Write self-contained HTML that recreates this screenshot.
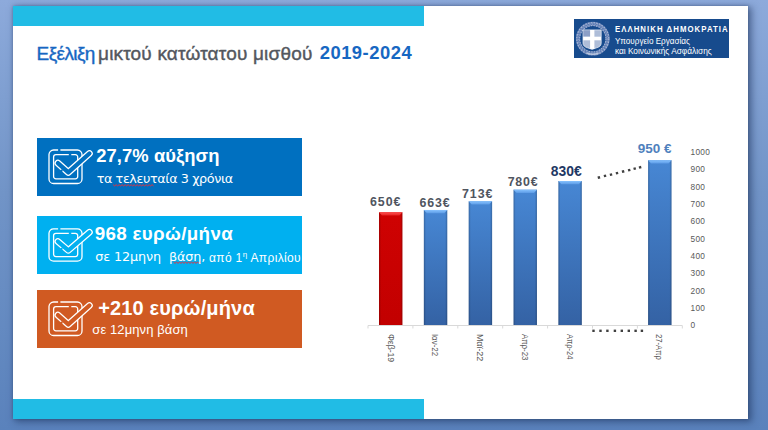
<!DOCTYPE html>
<html lang="el">
<head>
<meta charset="utf-8">
<title>Εξέλιξη μικτού κατώτατου μισθού 2019-2024</title>
<style>
html,body{margin:0;padding:0;}
body{width:768px;height:430px;overflow:hidden;position:relative;
  background:linear-gradient(180deg,#8daadb 0%,#7194c7 45%,#5a82bc 100%);
  font-family:"Liberation Sans",sans-serif;}
.slide{position:absolute;left:13px;top:6px;width:735px;height:413px;background:#fff;
  box-shadow:3px 2px 7px 1px rgba(25,45,85,.5),0 0 3px rgba(25,45,85,.35);}
.cy{position:absolute;left:13px;width:411px;height:20.3px;background:#21bce5;}
.t{position:absolute;white-space:nowrap;line-height:1;}
.logo{position:absolute;left:574px;top:19px;width:155px;height:38.5px;background:#174b8d;}
.box{position:absolute;left:36.5px;width:265.3px;}
.ic{position:absolute;}
.w{color:#fff;}
</style>
</head>
<body>
<div class="slide"></div>
<div class="cy" style="top:6px"></div>
<div class="cy" style="top:398.5px"></div>

<div class="t" style="left:36.6px;top:43.9px;font-size:19px;letter-spacing:-0.61px;color:#1767c2;-webkit-text-stroke:0.4px #1767c2;">Εξέλιξη</div>
<div class="t" style="left:98px;top:43.9px;font-size:19px;letter-spacing:0.18px;color:#53575e;-webkit-text-stroke:0.4px #53575e;">μικτού κατώτατου μισθού</div>
<div class="t" style="left:319.7px;top:44.3px;font-size:18.4px;letter-spacing:0.5px;font-weight:bold;color:#1767c2;">2019-2024</div>

<div class="logo"></div>
<svg width="156" height="40" viewBox="0 0 156 40" style="position:absolute;left:574px;top:19px">
  <circle cx="18.8" cy="19.7" r="14.8" fill="none" stroke="#5f7db4" stroke-width="4.2"/>
  <circle cx="18.8" cy="19.7" r="16" fill="none" stroke="#a4b4d3" stroke-width="1.3" stroke-dasharray="1.6 1.2"/>
  <circle cx="18.8" cy="19.7" r="14.6" fill="none" stroke="#8ea3c9" stroke-width="1.1" stroke-dasharray="1 1.6"/>
  <circle cx="18.8" cy="19.7" r="13.2" fill="none" stroke="#a0b2d2" stroke-width="1.1" stroke-dasharray="1.4 1.2"/>
  <path d="M13 34 Q18.8 36.5 24.6 34" fill="none" stroke="#b8c6de" stroke-width="1.4"/>
  <path d="M9 10.9 H27.2 V24 Q27.2 27.6 22.6 28.8 L18.1 30.4 L13.6 28.8 Q9 27.6 9 24 Z" fill="#aebdd8" stroke="#f0f4fa" stroke-width="0.7"/>
  <path d="M9.4 11.3 H18 V17.7 H9.4 Z" fill="#8c9fc6"/>
  <rect x="16.1" y="11" width="4.3" height="18.9" fill="#fff"/>
  <rect x="9.2" y="17.7" width="17.8" height="3.6" fill="#fff"/>
  <g fill="#fff" font-family="Liberation Sans, sans-serif">
    <text transform="translate(40.9 13.2) scale(0.84 1)" font-size="9.3" font-weight="bold" textLength="134.2" lengthAdjust="spacing">ΕΛΛΗΝΙΚΗ ΔΗΜΟΚΡΑΤΙΑ</text>
    <text x="40.9" y="25.3" font-size="9.4" textLength="75" lengthAdjust="spacingAndGlyphs">Υπουργείο Εργασίας</text>
    <text x="40.9" y="34.8" font-size="9.4" textLength="96.9" lengthAdjust="spacingAndGlyphs">και Κοινωνικής Ασφάλισης</text>
  </g>
</svg>

<div class="box" style="top:137.7px;height:58.3px;background:#0070c0;"></div>
<div class="box" style="top:215.8px;height:58.5px;background:#00b0f0;"></div>
<div class="box" style="top:289.7px;height:58.3px;background:#d05a22;"></div>

<svg class="ic" style="left:44px;top:144.9px" width="50" height="45" viewBox="-5 -5 50 45">
  <g fill="none" stroke="#fff" stroke-width="1.3">
    <path d="M9.1 0 H4.6 A4.6 4.6 0 0 0 0 4.6 V28.9 A4.6 4.6 0 0 0 4.6 33.5 H28.4 A4.6 4.6 0 0 0 33 28.9 V4.6 A4.6 4.6 0 0 0 28.4 0 H11.4"/>
    <path d="M19.8 4.7 H6.9 A2.3 2.3 0 0 0 4.6 7 V26.5 A2.3 2.3 0 0 0 6.9 28.8 H26.4 A2.3 2.3 0 0 0 28.7 26.5 V7 A2.3 2.3 0 0 0 26.4 4.7 H22.3"/>
  </g>
  <path d="M8.9 13.1 L19.3 22.4 L40.4 3.5" fill="none" stroke="#fff" stroke-width="6.8" stroke-linecap="round" stroke-linejoin="round"/>
  <path d="M8.9 13.1 L19.3 22.4 L40.4 3.5" fill="none" stroke="#0070c0" stroke-width="4.3" stroke-linecap="round" stroke-linejoin="round"/>
  <path d="M11.6 20.2 L13.2 21.6" stroke="#0070c0" stroke-width="2.4"/>
</svg>
<svg class="ic" style="left:44.2px;top:224.1px" width="50" height="43.4" viewBox="-5 -5 50 45" preserveAspectRatio="none">
  <g fill="none" stroke="#fff" stroke-width="1.3">
    <path d="M9.1 0 H4.6 A4.6 4.6 0 0 0 0 4.6 V28.9 A4.6 4.6 0 0 0 4.6 33.5 H28.4 A4.6 4.6 0 0 0 33 28.9 V4.6 A4.6 4.6 0 0 0 28.4 0 H11.4"/>
    <path d="M19.8 4.7 H6.9 A2.3 2.3 0 0 0 4.6 7 V26.5 A2.3 2.3 0 0 0 6.9 28.8 H26.4 A2.3 2.3 0 0 0 28.7 26.5 V7 A2.3 2.3 0 0 0 26.4 4.7 H22.3"/>
  </g>
  <path d="M8.9 13.1 L19.3 22.4 L40.4 3.5" fill="none" stroke="#fff" stroke-width="6.8" stroke-linecap="round" stroke-linejoin="round"/>
  <path d="M8.9 13.1 L19.3 22.4 L40.4 3.5" fill="none" stroke="#00b0f0" stroke-width="4.3" stroke-linecap="round" stroke-linejoin="round"/>
  <path d="M11.6 20.2 L13.2 21.6" stroke="#00b0f0" stroke-width="2.4"/>
</svg>
<svg class="ic" style="left:44.2px;top:296.6px" width="50" height="45" viewBox="-5 -5 50 45">
  <g fill="none" stroke="#fff" stroke-width="1.3">
    <path d="M9.1 0 H4.6 A4.6 4.6 0 0 0 0 4.6 V28.9 A4.6 4.6 0 0 0 4.6 33.5 H28.4 A4.6 4.6 0 0 0 33 28.9 V4.6 A4.6 4.6 0 0 0 28.4 0 H11.4"/>
    <path d="M19.8 4.7 H6.9 A2.3 2.3 0 0 0 4.6 7 V26.5 A2.3 2.3 0 0 0 6.9 28.8 H26.4 A2.3 2.3 0 0 0 28.7 26.5 V7 A2.3 2.3 0 0 0 26.4 4.7 H22.3"/>
  </g>
  <path d="M8.9 13.1 L19.3 22.4 L40.4 3.5" fill="none" stroke="#fff" stroke-width="6.8" stroke-linecap="round" stroke-linejoin="round"/>
  <path d="M8.9 13.1 L19.3 22.4 L40.4 3.5" fill="none" stroke="#d05a22" stroke-width="4.3" stroke-linecap="round" stroke-linejoin="round"/>
  <path d="M11.6 20.2 L13.2 21.6" stroke="#d05a22" stroke-width="2.4"/>
</svg>
<svg style="position:absolute;left:0;top:0" width="768" height="430" viewBox="0 0 768 430">
  <polyline points="113.1,184.7 114.6,185.9 116.1,184.7 117.6,185.9 119.1,184.7 120.6,185.9 122.1,184.7 123.6,185.9 125.1,184.7 126.6,185.9 128.1,184.7 129.6,185.9 131.1,184.7 132.6,185.9 134.1,184.7 135.6,185.9 137.1,184.7 138.6,185.9 140.1,184.7 141.6,185.9 143.1,184.7 144.6,185.9 146.1,184.7 147.6,185.9 149.1,184.7 150.6,185.9 152.1,184.7 153.6,185.9" fill="none" stroke="#e8303c" stroke-width="1"/>
  <polyline points="173.5,262.1 175.0,263.3 176.5,262.1 178.0,263.3 179.5,262.1 181.0,263.3 182.5,262.1 184.0,263.3 185.5,262.1 187.0,263.3 188.5,262.1 190.0,263.3 191.5,262.1 193.0,263.3 194.5,262.1 196.0,263.3 197.5,262.1 199.0,263.3 200.5,262.1" fill="none" stroke="#e8303c" stroke-width="1"/>
</svg>
<div class="t w" style="left:96.3px;top:146.6px;font-size:18.4px;font-weight:bold;letter-spacing:0.06px;">27,7% αύξηση</div>
<div class="t w" style="left:96.7px;top:173px;font-family:'DejaVu Sans',sans-serif;font-size:12.8px;letter-spacing:-0.43px;">τα τελευταία 3 χρόνια</div>
<div class="t w" style="left:94.7px;top:224.6px;font-size:18.8px;font-weight:bold;letter-spacing:0.33px;">968 ευρώ/μήνα</div>
<div class="t w" style="left:95.2px;top:251.3px;font-family:'DejaVu Sans',sans-serif;font-size:12.8px;letter-spacing:-0.12px;">σε 12μηνη &nbsp;βάση,</div>
<div class="t w" style="left:209px;top:250.5px;font-size:12px;letter-spacing:0.35px;">από 1<span style="font-size:8px;vertical-align:5px">η</span> Απριλίου</div>
<div class="t w" style="left:98.2px;top:298.4px;font-size:20px;font-weight:bold;letter-spacing:0.16px;">+210 ευρώ/μήνα</div>
<div class="t w" style="left:92.3px;top:323.1px;font-size:13px;letter-spacing:0.1px;">σε 12μηνη βάση</div>

<svg style="position:absolute;left:0;top:0" width="768" height="430" viewBox="0 0 768 430">
  <defs>
    <linearGradient id="gB" x1="0" y1="0" x2="0" y2="1"><stop offset="0" stop-color="#4787d4"/><stop offset="1" stop-color="#3462a4"/></linearGradient>
    <linearGradient id="gR" x1="0" y1="0" x2="0" y2="1"><stop offset="0" stop-color="#cf0202"/><stop offset="1" stop-color="#c20000"/></linearGradient>
    <linearGradient id="gHB" x1="0" y1="0" x2="0" y2="1"><stop offset="0" stop-color="#86c2ff"/><stop offset="1" stop-color="#5c9be6"/></linearGradient>
    <linearGradient id="gHR" x1="0" y1="0" x2="0" y2="1"><stop offset="0" stop-color="#ff5050"/><stop offset="1" stop-color="#e52222"/></linearGradient>
    <linearGradient id="gS" x1="0" y1="0" x2="1" y2="0"><stop offset="0" stop-color="#000" stop-opacity=".22"/><stop offset=".09" stop-color="#000" stop-opacity="0"/><stop offset=".91" stop-color="#000" stop-opacity="0"/><stop offset="1" stop-color="#000" stop-opacity=".22"/></linearGradient>
  </defs>
  <g stroke="#d9d9d9" stroke-width="1" fill="none">
    <path d="M368 325.5 H682.3"/>    <path d="M368.0 325.5 V328.5"/><path d="M412.9 325.5 V328.5"/><path d="M457.8 325.5 V328.5"/><path d="M502.7 325.5 V328.5"/><path d="M547.6 325.5 V328.5"/><path d="M592.5 325.5 V328.5"/><path d="M637.4 325.5 V328.5"/><path d="M682.3 325.5 V328.5"/>
  </g>
  <rect x="379.00" y="212.23" width="23.4" height="112.77" fill="url(#gR)"/>
  <rect x="379.00" y="212.23" width="23.4" height="112.77" fill="url(#gS)"/>
  <path d="M379.00 212.23 H402.40 L399.40 215.53 H382.00 Z" fill="url(#gHR)"/>
  <rect x="423.85" y="209.97" width="23.4" height="115.03" fill="url(#gB)"/>
  <rect x="423.85" y="209.97" width="23.4" height="115.03" fill="url(#gS)"/>
  <path d="M423.85 209.97 H447.25 L444.25 213.27 H426.85 Z" fill="url(#gHB)"/>
  <rect x="468.70" y="201.29" width="23.4" height="123.71" fill="url(#gB)"/>
  <rect x="468.70" y="201.29" width="23.4" height="123.71" fill="url(#gS)"/>
  <path d="M468.70 201.29 H492.10 L489.10 204.59 H471.70 Z" fill="url(#gHB)"/>
  <rect x="513.55" y="189.67" width="23.4" height="135.33" fill="url(#gB)"/>
  <rect x="513.55" y="189.67" width="23.4" height="135.33" fill="url(#gS)"/>
  <path d="M513.55 189.67 H536.95 L533.95 192.97 H516.55 Z" fill="url(#gHB)"/>
  <rect x="558.40" y="181.00" width="23.4" height="144.00" fill="url(#gB)"/>
  <rect x="558.40" y="181.00" width="23.4" height="144.00" fill="url(#gS)"/>
  <path d="M558.40 181.00 H581.80 L578.80 184.30 H561.40 Z" fill="url(#gHB)"/>
  <rect x="648.10" y="160.18" width="23.4" height="164.82" fill="url(#gB)"/>
  <rect x="648.10" y="160.18" width="23.4" height="164.82" fill="url(#gS)"/>
  <path d="M648.10 160.18 H671.50 L668.50 163.48 H651.10 Z" fill="url(#gHB)"/>
  <g font-family="Liberation Sans, sans-serif">
  <text x="370.0" y="206.4" font-size="12.4" font-weight="bold" fill="#50555f" textLength="30.5" lengthAdjust="spacing">650€</text>
  <text x="419.5" y="207.3" font-size="12.4" font-weight="bold" fill="#50555f" textLength="30.2" lengthAdjust="spacing">663€</text>
  <text x="462.0" y="197.6" font-size="12.4" font-weight="bold" fill="#50555f" textLength="30.5" lengthAdjust="spacing">713€</text>
  <text x="507.7" y="185.9" font-size="12.4" font-weight="bold" fill="#50555f" textLength="29.9" lengthAdjust="spacing">780€</text>
  <text x="550.8" y="176.0" font-size="14.0" font-weight="bold" fill="#1f3864" textLength="30.9" lengthAdjust="spacingAndGlyphs">830€</text>
  <text x="637.7" y="153.2" font-size="13.3" font-weight="bold" fill="#4f81bd" textLength="33.7" lengthAdjust="spacingAndGlyphs">950 €</text>
  <text x="690.5" y="328.25" font-size="8.3" fill="#595959" letter-spacing="0.3">0</text>
  <text x="690.5" y="310.92" font-size="8.3" fill="#595959" letter-spacing="0.3">100</text>
  <text x="690.5" y="293.59" font-size="8.3" fill="#595959" letter-spacing="0.3">200</text>
  <text x="690.5" y="276.26" font-size="8.3" fill="#595959" letter-spacing="0.3">300</text>
  <text x="690.5" y="258.93" font-size="8.3" fill="#595959" letter-spacing="0.3">400</text>
  <text x="690.5" y="241.60" font-size="8.3" fill="#595959" letter-spacing="0.3">500</text>
  <text x="690.5" y="224.27" font-size="8.3" fill="#595959" letter-spacing="0.3">600</text>
  <text x="690.5" y="206.94" font-size="8.3" fill="#595959" letter-spacing="0.3">700</text>
  <text x="690.5" y="189.61" font-size="8.3" fill="#595959" letter-spacing="0.3">800</text>
  <text x="690.5" y="172.28" font-size="8.3" fill="#595959" letter-spacing="0.3">900</text>
  <text x="690.5" y="154.95" font-size="8.3" fill="#595959" letter-spacing="0.3">1000</text>
  <text transform="translate(387.6 333.9) rotate(90)" font-size="8.8" fill="#595959" textLength="28.3" lengthAdjust="spacingAndGlyphs">Φεβ-19</text>
  <text transform="translate(432.0 333.9) rotate(90)" font-size="8.8" fill="#595959" textLength="22.3" lengthAdjust="spacingAndGlyphs">Ιαν-22</text>
  <text transform="translate(476.9 333.9) rotate(90)" font-size="8.8" fill="#595959" textLength="27.3" lengthAdjust="spacingAndGlyphs">Μαϊ-22</text>
  <text transform="translate(522.3 333.9) rotate(90)" font-size="8.8" fill="#595959" textLength="26.6" lengthAdjust="spacingAndGlyphs">Απρ-23</text>
  <text transform="translate(566.7 333.9) rotate(90)" font-size="8.8" fill="#595959" textLength="25.6" lengthAdjust="spacingAndGlyphs">Απρ-24</text>
  <text transform="translate(656.0 333.9) rotate(90)" font-size="8.8" fill="#595959" textLength="26.0" lengthAdjust="spacingAndGlyphs">27-Απρ</text>
  <rect x="597.70" y="176.30" width="2.4" height="2.4" fill="#404040" transform="rotate(-13.9 598.9 177.5)"/>
  <rect x="603.80" y="174.70" width="2.4" height="2.4" fill="#404040" transform="rotate(-13.9 605 175.9)"/>
  <rect x="609.80" y="173.40" width="2.4" height="2.4" fill="#404040" transform="rotate(-13.9 611 174.6)"/>
  <rect x="615.80" y="171.90" width="2.4" height="2.4" fill="#404040" transform="rotate(-13.9 617 173.1)"/>
  <rect x="621.90" y="170.30" width="2.4" height="2.4" fill="#404040" transform="rotate(-13.9 623.1 171.5)"/>
  <rect x="628.00" y="168.90" width="2.4" height="2.4" fill="#404040" transform="rotate(-13.9 629.2 170.1)"/>
  <rect x="633.50" y="167.40" width="2.4" height="2.4" fill="#404040" transform="rotate(-13.9 634.7 168.6)"/>
  <rect x="638.90" y="166.10" width="2.4" height="2.4" fill="#404040" transform="rotate(-13.9 640.1 167.3)"/>
  <rect x="592.30" y="329.6" width="2.4" height="2.4" fill="#404040"/>
  <rect x="599.30" y="329.6" width="2.4" height="2.4" fill="#404040"/>
  <rect x="606.20" y="329.6" width="2.4" height="2.4" fill="#404040"/>
  <rect x="613.70" y="329.6" width="2.4" height="2.4" fill="#404040"/>
  <rect x="620.60" y="329.6" width="2.4" height="2.4" fill="#404040"/>
  <rect x="627.60" y="329.6" width="2.4" height="2.4" fill="#404040"/>
  <rect x="634.40" y="329.6" width="2.4" height="2.4" fill="#404040"/>
  <rect x="640.70" y="329.6" width="2.4" height="2.4" fill="#404040"/>
  </g>
</svg>
</body>
</html>
